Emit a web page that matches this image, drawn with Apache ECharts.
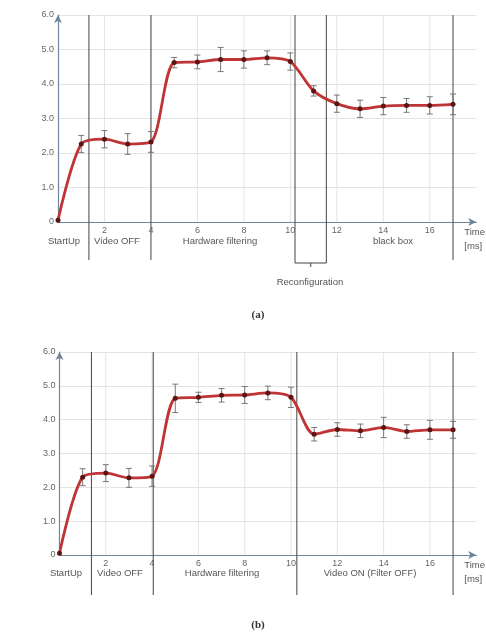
<!DOCTYPE html>
<html><head><meta charset="utf-8">
<script src="https://cdn.jsdelivr.net/npm/echarts@6/dist/echarts.min.js"></script>
<style>html,body{margin:0;padding:0;background:#fff}#c{width:486px;height:636px}</style>
</head><body><div id="c"></div>
<script>
// ---- data ----
const times = [0,1,2,3,4,5,6,7,8,9,10,11,12,13,14,15,16,17];
const powerA = [0.05,2.26,2.40,2.26,2.32,4.62,4.64,4.71,4.71,4.76,4.65,3.80,3.43,3.28,3.36,3.38,3.38,3.41];
const errA   = [0,   0.25,0.25,0.30,0.30,0.15,0.20,0.35,0.25,0.20,0.25,0.15,0.25,0.25,0.25,0.20,0.25,0.30];
const powerB = [0.05,2.30,2.42,2.28,2.33,4.63,4.66,4.72,4.73,4.79,4.66,3.57,3.71,3.67,3.77,3.65,3.70,3.70];
const errB   = [0,   0.25,0.25,0.28,0.30,0.42,0.15,0.20,0.25,0.20,0.30,0.20,0.20,0.20,0.30,0.20,0.28,0.25];
const boundsA = [1.33, 4.0, 10.2, 11.55, 17.0];
const boundsB = [1.38, 4.05, 10.25, 17.0];
const reconfigA = [10.2, 11.55];
const xTickLabels = [2,4,6,8,10,12,14,16];
const yTickLabels = [0,1,2,3,4,5,6];
const phasesA = ['StartUp','Video OFF','Hardware filtering','black box'];
const phasesB = ['StartUp','Video OFF','Hardware filtering','Video ON (Filter OFF)'];

const FONT = 'Liberation Sans, Arial, sans-serif';
const AXIS = '#6f8599';
const chart = echarts.init(document.getElementById('c'));

function xAxisCfg(gi){
  return {type:'value', gridIndex:gi, min:0, max:18, interval:2,
    axisLine:{show:true, lineStyle:{color:AXIS, width:1.2}, symbol:['none','arrow'], symbolSize:[6,8]},
    axisTick:{show:false}, splitLine:{show:false},
    axisLabel:{color:'#666', fontSize:9, fontFamily:FONT, margin:4,
      formatter:v => xTickLabels.includes(v) ? String(v) : ''},
    name:'Time\n[ms]', nameLocation:'end', nameGap:-12,
    nameTextStyle:{color:'#555', fontSize:9.5, fontFamily:FONT, align:'left', verticalAlign:'top', lineHeight:14, padding:[3,0,0,0]}
  };
}
function yAxisCfg(gi){
  return {type:'value', gridIndex:gi, min:0, max:6, interval:1,
    axisLine:{show:true, lineStyle:{color:AXIS, width:1.2}, symbol:['none','arrow'], symbolSize:[6,8]},
    axisTick:{show:false},
    splitLine:{show:true, lineStyle:{color:'#e4e4e4', width:1}},
    axisLabel:{color:'#666', fontSize:9, fontFamily:FONT, margin:4,
      formatter:v => yTickLabels.includes(v) ? (v===0 ? '0' : v.toFixed(1)) : ''}
  };
}
function lineSeries(gi, vals){
  return {type:'line', xAxisIndex:gi, yAxisIndex:gi, data: times.map((t,i)=>[t, vals[i]]),
    smooth:0.28, smoothMonotone:'none', symbol:'circle', symbolSize:5,
    itemStyle:{color:'#5c1414'},
    lineStyle:{color:'#bf3434', width:2.8},
    z:5, silent:true};
}
function errSeries(gi, vals, errs){
  return {type:'custom', xAxisIndex:gi, yAxisIndex:gi, silent:true, z:4,
    data: times.map((t,i)=>[t, vals[i]-errs[i], vals[i]+errs[i]]).filter((d,i)=>errs[i]>0),
    renderItem(params, api){
      const lo = api.coord([api.value(0), api.value(1)]);
      const hi = api.coord([api.value(0), api.value(2)]);
      const s = {stroke:'#777', lineWidth:1};
      return {type:'group', children:[
        {type:'line', shape:{x1:lo[0],y1:lo[1],x2:hi[0],y2:hi[1]}, style:s},
        {type:'line', shape:{x1:lo[0]-3,y1:lo[1],x2:lo[0]+3,y2:lo[1]}, style:s},
        {type:'line', shape:{x1:hi[0]-3,y1:hi[1],x2:hi[0]+3,y2:hi[1]}, style:s}
      ]};
    }};
}
function vGridSeries(gi){
  return {type:'custom', xAxisIndex:gi, yAxisIndex:gi, silent:true, z:1,
    data: xTickLabels.map(t=>[t]),
    renderItem(params, api){
      const a = api.coord([api.value(0), 0]);
      const b = api.coord([api.value(0), 6]);
      return {type:'line', shape:{x1:a[0],y1:a[1],x2:b[0],y2:b[1]}, style:{stroke:'#e4e4e4', lineWidth:1}};
    }};
}
function boundSeries(gi, bounds, ext){
  return {type:'custom', xAxisIndex:gi, yAxisIndex:gi, silent:true, clip:false, z:3,
    data: bounds.map(b=>[b]),
    renderItem(params, api){
      const a = api.coord([api.value(0), 6]);
      const b = api.coord([api.value(0), 0]);
      const inRe = gi===0 && reconfigA.includes(api.value(0));
      return {type:'line', shape:{x1:a[0],y1:a[1],x2:b[0],y2:b[1]+(inRe?ext+3:ext)},
        style:{stroke:'#555', lineWidth:1.1}};
    }};
}
function bracketSeries(){
  return {type:'custom', xAxisIndex:0, yAxisIndex:0, silent:true, clip:false, z:3,
    data:[reconfigA],
    renderItem(params, api){
      const a = api.coord([api.value(0), 0]);
      const b = api.coord([api.value(1), 0]);
      const y = a[1] + 41, m = (a[0]+b[0])/2;
      return {type:'group', children:[
        {type:'line', shape:{x1:a[0],y1:y,x2:b[0],y2:y}, style:{stroke:'#555', lineWidth:1.1}},
        {type:'line', shape:{x1:m,y1:y,x2:m,y2:y+4}, style:{stroke:'#555', lineWidth:1.1}}
      ]};
    }};
}

const txt = (text, x, y, extra={}) => ({type:'text', x, y, silent:true,
  style:Object.assign({text, fill:'#555', fontSize:9.5, fontFamily:FONT, align:'center', verticalAlign:'middle'}, extra)});

chart.setOption({
  animation:false,
  backgroundColor:'#fff',
  grid:[
    {left:58, top:15, width:419, height:207},
    {left:59.5, top:352, width:419, height:203}
  ],
  xAxis:[xAxisCfg(0), xAxisCfg(1)],
  yAxis:[yAxisCfg(0), yAxisCfg(1)],
  series:[
    vGridSeries(0), vGridSeries(1),
    boundSeries(0, boundsA, 38), boundSeries(1, boundsB, 40), bracketSeries(),
    errSeries(0, powerA, errA), errSeries(1, powerB, errB),
    lineSeries(0, powerA), lineSeries(1, powerB)
  ],
  graphic:[
    txt('Power consumption [W]', 22, 126, {fontSize:11.5}),
    txt('Power consumption [W]', 22, 458, {fontSize:11.5}),
    txt(phasesA[0], 64, 241), txt(phasesA[1], 117, 241), txt(phasesA[2], 220, 241), txt(phasesA[3], 393, 241),
    txt('Reconfiguration', 310, 282),
    txt(phasesB[0], 66, 573), txt(phasesB[1], 120, 573), txt(phasesB[2], 222, 573), txt(phasesB[3], 370, 573),
    txt('(a)', 258, 315, {fontFamily:'Liberation Serif, serif', fontSize:11, fill:'#333', fontWeight:'bold'}),
    txt('(b)', 258, 625, {fontFamily:'Liberation Serif, serif', fontSize:11, fill:'#333', fontWeight:'bold'})
  ].map((g,i)=> i<2 ? Object.assign(g, {rotation:Math.PI/2, originX:g.x, originY:g.y}) : g)
});
</script>
</body></html>
